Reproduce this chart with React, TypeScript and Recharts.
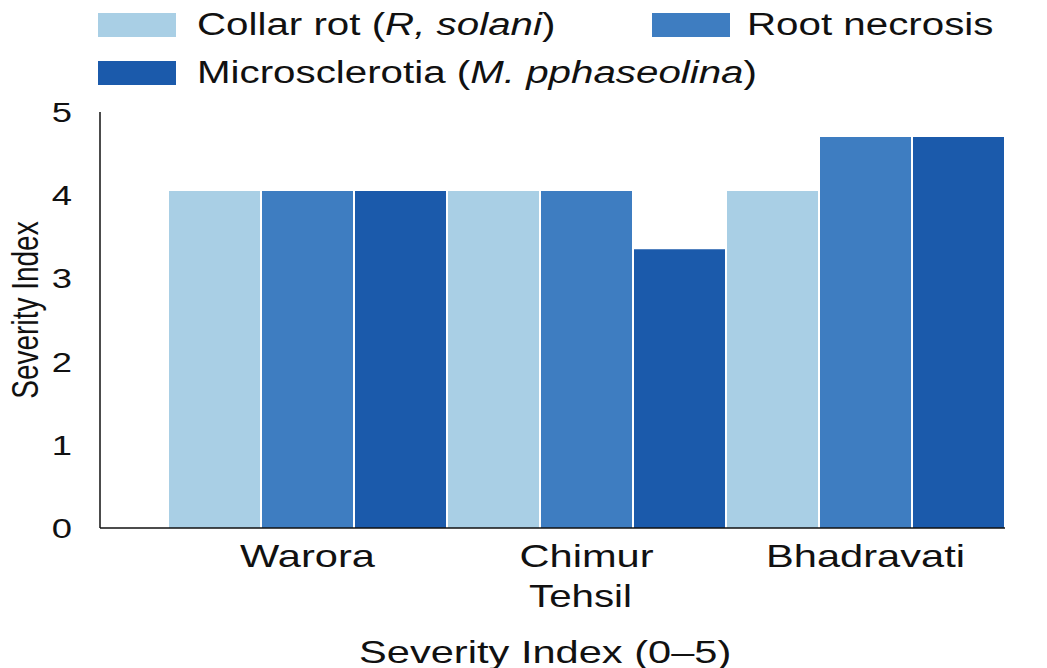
import { Bar, BarChart, XAxis, YAxis } from "recharts";

const tehsils = ["Warora", "Chimur", "Bhadravati"];
const collarRot = [4.05, 4.05, 4.05];
const rootNecrosis = [4.05, 4.05, 4.7];
const microsclerotia = [4.05, 3.35, 4.7];
const yTicks = [0, 1, 2, 3, 4, 5];

const colors = { collar: "#a9cfe5", root: "#3e7dc1", micro: "#1b5aab" };
const FONT = "'Liberation Sans', Arial, sans-serif";
const SX = 1.3;

const data = tehsils.map((t, i) => ({
  tehsil: t,
  collar: collarRot[i],
  root: rootNecrosis[i],
  micro: microsclerotia[i],
}));

const XTick = ({ x, y, payload }: any) => (
  <text
    transform={`translate(${x},${y}) scale(${SX},1)`}
    textAnchor="middle"
    dy="0.71em"
    fontSize={32}
    fontFamily={FONT}
    fill="#111"
  >
    {payload.value}
  </text>
);

const YTick = ({ x, y, payload }: any) => (
  <text
    transform={`translate(${x},${y}) scale(${SX},1)`}
    textAnchor="end"
    dy="0.36em"
    fontSize={28}
    fontFamily={FONT}
    fill="#111"
  >
    {payload.value}
  </text>
);

const TehsilLabel = ({ viewBox }: any) => {
  const cx = viewBox.x + viewBox.width / 2;
  return (
    <text
      transform={`translate(${cx + 28},${607}) scale(${SX},1)`}
      textAnchor="middle"
      fontSize={31}
      fontFamily={FONT}
      fill="#111"
    >
      Tehsil
    </text>
  );
};

const YLabel = () => (
  <text
    transform={`translate(38,310) scale(${SX},1) rotate(-90)`}
    textAnchor="middle"
    fontSize={28}
    fontFamily={FONT}
    fill="#111"
  >
    Severity Index
  </text>
);

function Swatch({ color, left, top }: { color: string; left: number; top: number }) {
  return (
    <div style={{ position: "absolute", left, top, width: 78, height: 24, background: color }} />
  );
}

function LegendText({ left, top, children }: { left: number; top: number; children: any }) {
  return (
    <div
      style={{
        position: "absolute",
        left,
        top,
        fontSize: 31,
        fontFamily: FONT,
        color: "#111",
        whiteSpace: "nowrap",
        transform: `scaleX(${SX})`,
        transformOrigin: "left center",
        lineHeight: "36px",
      }}
    >
      {children}
    </div>
  );
}

export default function App() {
  return (
    <div style={{ position: "absolute", left: 0, top: 0, width: 1047, height: 668, background: "#fff" }}>
      <BarChart
        width={1047}
        height={668}
        data={data}
        margin={{ top: 112, right: 42, bottom: 0, left: 0 }}
        barCategoryGap={1}
        barGap={2}
      >
        <XAxis
          dataKey="tehsil"
          height={140}
          padding={{ left: 68, right: 0 }}
          axisLine={{ stroke: "#111", strokeWidth: 1.5 }}
          tickLine={false}
          tickSize={0}
          tickMargin={16}
          tick={<XTick />}
          interval={0}
          label={<TehsilLabel />}
        />
        <YAxis
          width={100}
          domain={[0, 5]}
          ticks={yTicks}
          axisLine={{ stroke: "#111", strokeWidth: 1.5 }}
          tickLine={false}
          tickSize={0}
          tickMargin={28}
          tick={<YTick />}
          label={<YLabel />}
        />
        <Bar dataKey="collar" name="Collar rot (R, solani)" fill={colors.collar} isAnimationActive={false} />
        <Bar dataKey="root" name="Root necrosis" fill={colors.root} isAnimationActive={false} />
        <Bar dataKey="micro" name="Microsclerotia (M. pphaseolina)" fill={colors.micro} isAnimationActive={false} />
      </BarChart>

      <Swatch color={colors.collar} left={98} top={13} />
      <LegendText left={197} top={7}>
        Collar rot (<i>R, solani</i>)
      </LegendText>
      <Swatch color={colors.root} left={652} top={13} />
      <LegendText left={747} top={7}>
        Root necrosis
      </LegendText>
      <Swatch color={colors.micro} left={98} top={61} />
      <LegendText left={197} top={55}>
        Microsclerotia (<i>M. pphaseolina</i>)
      </LegendText>

      <div
        style={{
          position: "absolute",
          left: 0,
          width: 1047,
          top: 634,
          textAlign: "center",
          fontSize: 32,
          fontFamily: FONT,
          color: "#111",
          lineHeight: "36px",
        }}
      >
        <span style={{ display: "inline-block", transform: `scaleX(${SX})`, marginLeft: 44 }}>
          Severity Index (0–5)
        </span>
      </div>
    </div>
  );
}
